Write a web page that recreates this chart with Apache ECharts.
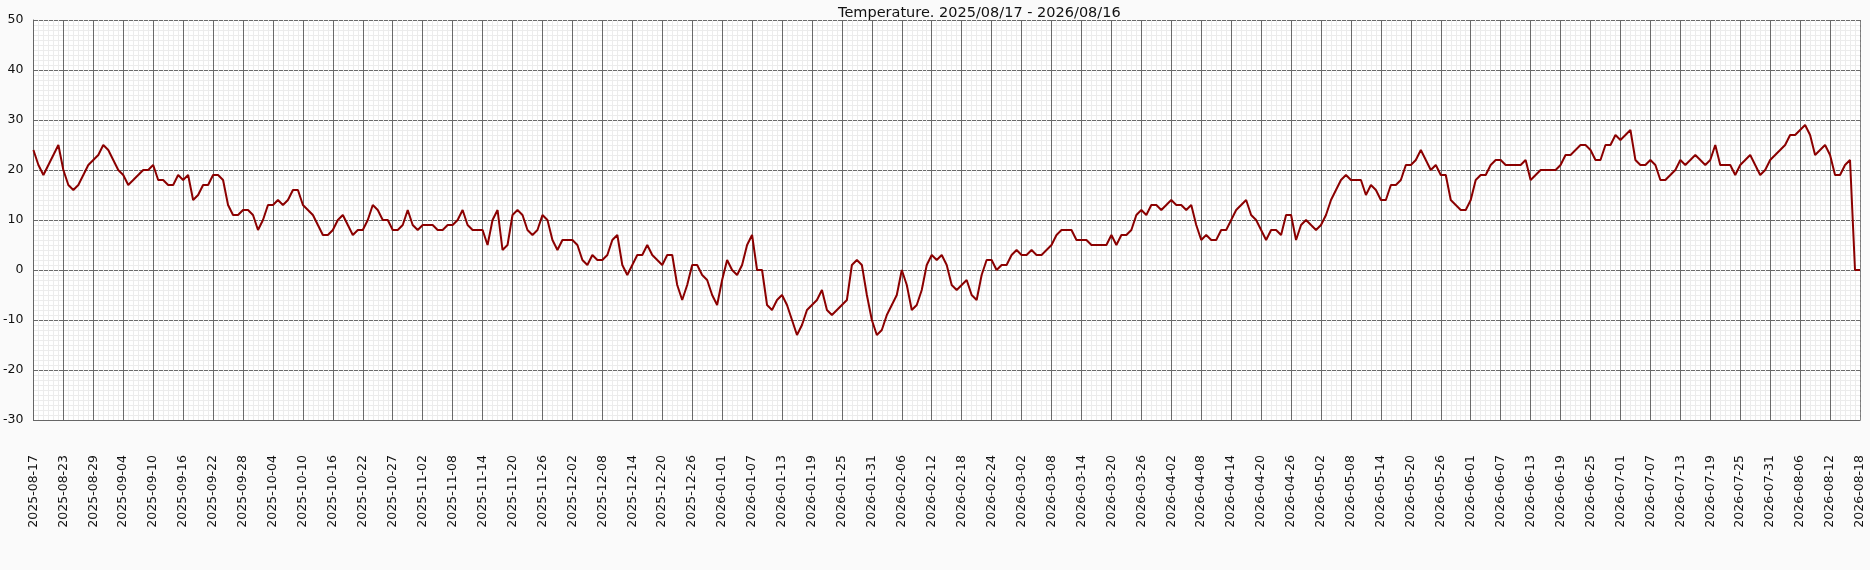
<!DOCTYPE html>
<html>
<head>
    <meta charset="UTF-8">
    <title>Temperature</title>
    <style type="text/css">
        body{
            margin:0;
            padding:0;
            background-color:#fafafa;
        }
        #main{
            width:1870px;
            height:570px;
        }
    </style>
</head>
<body>
<div id="main"></div>
<script src="https://cdn.jsdelivr.net/npm/echarts@6/dist/echarts.min.js"></script>
<script type="text/javascript">

    var chartTitle = 'Temperature. 2025/08/17 - 2026/08/16';

    // one value per day, starting 2025-08-17
    var temps = [
        24, 21, 19, 21, 23, 25, 20, 17, 16, 17,
        19, 21, 22, 23, 25, 24, 22, 20, 19, 17,
        18, 19, 20, 20, 21, 18, 18, 17, 17, 19,
        18, 19, 14, 15, 17, 17, 19, 19, 18, 13,
        11, 11, 12, 12, 11, 8, 10, 13, 13, 14,
        13, 14, 16, 16, 13, 12, 11, 9, 7, 7,
        8, 10, 11, 9, 7, 8, 8, 10, 13, 12,
        10, 10, 8, 8, 9, 12, 9, 8, 9, 9,
        9, 8, 8, 9, 9, 10, 12, 9, 8, 8,
        8, 5, 10, 12, 4, 5, 11, 12, 11, 8,
        7, 8, 11, 10, 6, 4, 6, 6, 6, 5,
        2, 1, 3, 2, 2, 3, 6, 7, 1, -1,
        1, 3, 3, 5, 3, 2, 1, 3, 3, -3,
        -6, -3, 1, 1, -1, -2, -5, -7, -2, 2,
        0, -1, 1, 5, 7, 0, 0, -7, -8, -6,
        -5, -7, -10, -13, -11, -8, -7, -6, -4, -8,
        -9, -8, -7, -6, 1, 2, 1, -5, -10, -13,
        -12, -9, -7, -5, 0, -3, -8, -7, -4, 1,
        3, 2, 3, 1, -3, -4, -3, -2, -5, -6,
        -1, 2, 2, 0, 1, 1, 3, 4, 3, 3,
        4, 3, 3, 4, 5, 7, 8, 8, 8, 6,
        6, 6, 5, 5, 5, 5, 7, 5, 7, 7,
        8, 11, 12, 11, 13, 13, 12, 13, 14, 13,
        13, 12, 13, 9, 6, 7, 6, 6, 8, 8,
        10, 12, 13, 14, 11, 10, 8, 6, 8, 8,
        7, 11, 11, 6, 9, 10, 9, 8, 9, 11,
        14, 16, 18, 19, 18, 18, 18, 15, 17, 16,
        14, 14, 17, 17, 18, 21, 21, 22, 24, 22,
        20, 21, 19, 19, 14, 13, 12, 12, 14, 18,
        19, 19, 21, 22, 22, 21, 21, 21, 21, 22,
        18, 19, 20, 20, 20, 20, 21, 23, 23, 24,
        25, 25, 24, 22, 22, 25, 25, 27, 26, 27,
        28, 22, 21, 21, 22, 21, 18, 18, 19, 20,
        22, 21, 22, 23, 22, 21, 22, 25, 21, 21,
        21, 19, 21, 22, 23, 21, 19, 20, 22, 23,
        24, 25, 27, 27, 28, 29, 27, 23, 24, 25,
        23, 19, 19, 21, 22, 0, 0
    ];

    // x tick labels, one every 6 days
    var tickLabels = [
        '2025-08-17', '2025-08-23', '2025-08-29', '2025-09-04', '2025-09-10', '2025-09-16',
        '2025-09-22', '2025-09-28', '2025-10-04', '2025-10-10', '2025-10-16', '2025-10-22',
        '2025-10-27', '2025-11-02', '2025-11-08', '2025-11-14', '2025-11-20', '2025-11-26',
        '2025-12-02', '2025-12-08', '2025-12-14', '2025-12-20', '2025-12-26', '2026-01-01',
        '2026-01-07', '2026-01-13', '2026-01-19', '2026-01-25', '2026-01-31', '2026-02-06',
        '2026-02-12', '2026-02-18', '2026-02-24', '2026-03-02', '2026-03-08', '2026-03-14',
        '2026-03-20', '2026-03-26', '2026-04-02', '2026-04-08', '2026-04-14', '2026-04-20',
        '2026-04-26', '2026-05-02', '2026-05-08', '2026-05-14', '2026-05-20', '2026-05-26',
        '2026-06-01', '2026-06-07', '2026-06-13', '2026-06-19', '2026-06-25', '2026-07-01',
        '2026-07-07', '2026-07-13', '2026-07-19', '2026-07-25', '2026-07-31', '2026-08-06',
        '2026-08-12', '2026-08-18'
    ];
    var tickStep = 6;
    var yTicks = [-30, -20, -10, 0, 10, 20, 30, 40, 50];

    var points = temps.map(function(v, i) { return [i, v]; });

    var myChart = echarts.init(document.getElementById('main'), null, {renderer: 'canvas'});
    var option = {
        animation: false,
        backgroundColor: '#fafafa',
        textStyle: {fontFamily: 'DejaVu Sans'},
        title: {
            text: chartTitle,
            left: 833,
            top: 1,
            textStyle: {fontSize: 14.5, fontWeight: 'normal', color: '#111', fontFamily: 'DejaVu Sans'}
        },
        grid: {left: 30, top: 20, width: 1830, height: 400, backgroundColor: '#ffffff', show: true, borderWidth: 0},
        xAxis: {
            type: 'value',
            min: 0,
            max: (tickLabels.length - 1) * tickStep,
            interval: tickStep,
            axisLine: {show: true, onZero: false, lineStyle: {color: '#666', width: 1}},
            axisTick: {show: false},
            axisLabel: {
                rotate: 90,
                margin: 35,
                fontSize: 12.5,
                color: '#111',
                showMinLabel: true,
                showMaxLabel: true,
                formatter: function(v) { return tickLabels[Math.round(v / tickStep)] || ''; }
            },
            splitLine: {show: true, lineStyle: {color: '#6a6a6a', width: 1}},
            minorTick: {show: false, splitNumber: 6},
            minorSplitLine: {show: true, lineStyle: {color: '#ececec', width: 1}}
        },
        yAxis: [
            {
                type: 'value',
                min: yTicks[0],
                max: yTicks[yTicks.length - 1],
                interval: 10,
                axisLine: {show: true, lineStyle: {color: '#666', width: 1}},
                axisTick: {show: false},
                axisLabel: {margin: 10, fontSize: 12.5, color: '#111'},
                splitLine: {show: true, lineStyle: {color: '#6a6a6a', width: 1}},
                minorTick: {show: false, splitNumber: 10},
                minorSplitLine: {show: true, lineStyle: {color: '#ececec', width: 1}}
            },
            {
                type: 'value',
                position: 'right',
                min: yTicks[0],
                max: yTicks[yTicks.length - 1],
                interval: 10,
                axisLine: {show: true, lineStyle: {color: '#888', width: 1, type: [3, 2]}},
                axisTick: {show: false},
                axisLabel: {show: false},
                splitLine: {show: false}
            }
        ],
        series: [
            {
                type: 'line',
                data: points,
                showSymbol: false,
                lineStyle: {color: '#8b0000', width: 2},
                z: 5
            }
        ]
    };
    myChart.setOption(option);
</script>
</body>
</html>
